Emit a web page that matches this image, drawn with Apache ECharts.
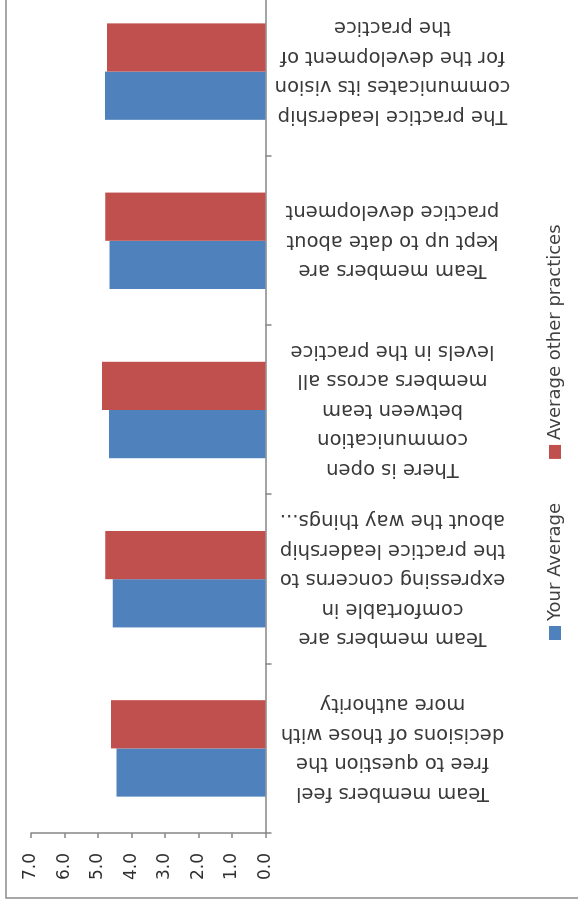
<!DOCTYPE html>
<html>
<head>
<meta charset="utf-8">
<script src="https://cdn.jsdelivr.net/npm/echarts@6/dist/echarts.min.js"></script>
<style>
  html, body { margin: 0; padding: 0; background: #ffffff; overflow: hidden; width: 578px; height: 910px; }
  /* The column chart is laid out landscape and turned a quarter turn counter-clockwise. */
  #chart {
    position: absolute; left: 0; top: 0;
    width: 940px; height: 578px;
    transform-origin: 0 0;
    transform: translate(0, 910px) rotate(-90deg);
  }
</style>
</head>
<body>
<div id="chart"></div>
<script>
const categories = [
  'Team members feel\nfree to question the\ndecisions of those with\nmore authority',
  'Team members are\ncomfortable in\nexpressing concerns to\nthe practice leadership\nabout the way things...',
  'There is open\ncommunication\nbetween team\nmembers across all\nlevels in the practice',
  'Team members are\nkept up to date about\npractice development',
  'The practice leadership\ncommunicates its vision\nfor the development of\nthe practice'
];
const yourAverage = [4.45, 4.56, 4.67, 4.66, 4.79];
const otherPractices = [4.61, 4.78, 4.88, 4.78, 4.73];
const seriesNames = ['Your Average', 'Average other practices'];
const axisMin = 0, axisMax = 7, axisStep = 1;

const FONT = 'DejaVu Sans';
const chart = echarts.init(document.getElementById('chart'), null, { renderer: 'canvas' });

chart.setOption({
  animation: false,
  backgroundColor: '#ffffff',
  color: ['#4f81bd', '#c0504d'],
  textStyle: { fontFamily: FONT },
  graphic: [{
    type: 'rect',
    shape: { x: 12, y: 6, width: 2000, height: 2000 },
    style: { fill: 'none', stroke: '#8a8a8a', lineWidth: 1.5 },
    silent: true
  }],
  grid: { left: 77, right: 17, top: 31, bottom: 312.5, outerBoundsMode: 'none' },
  legend: {
    left: 265, top: 541,
    itemWidth: 14, itemHeight: 12, itemGap: 44,
    icon: 'rect',
    textStyle: { fontFamily: FONT, fontSize: 18, color: '#404040' },
    data: seriesNames
  },
  xAxis: {
    type: 'category',
    data: categories,
    axisLine: { show: true, lineStyle: { color: '#868686', width: 1.5 } },
    axisTick: { show: true, length: 6, lineStyle: { color: '#868686', width: 1.5 } },
    axisLabel: {
      interval: 0, rotate: 90, align: 'center', verticalAlign: 'middle',
      margin: 127, lineHeight: 29.5,
      fontFamily: FONT, fontSize: 19.5, color: '#3a3a3a'
    }
  },
  yAxis: {
    type: 'value',
    min: axisMin, max: axisMax, interval: axisStep,
    splitLine: { show: false },
    axisLine: { show: true, lineStyle: { color: '#868686', width: 1.5 } },
    axisTick: { show: true, length: 5, lineStyle: { color: '#868686', width: 1.5 } },
    axisLabel: {
      margin: 20, fontFamily: FONT, fontSize: 17, color: '#303030',
      formatter: v => v.toFixed(1)
    }
  },
  series: [
    { name: seriesNames[0], type: 'bar', data: yourAverage, barGap: '0%', barCategoryGap: '43%' },
    { name: seriesNames[1], type: 'bar', data: otherPractices, barGap: '0%', barCategoryGap: '43%' }
  ]
});
</script>
</body>
</html>
